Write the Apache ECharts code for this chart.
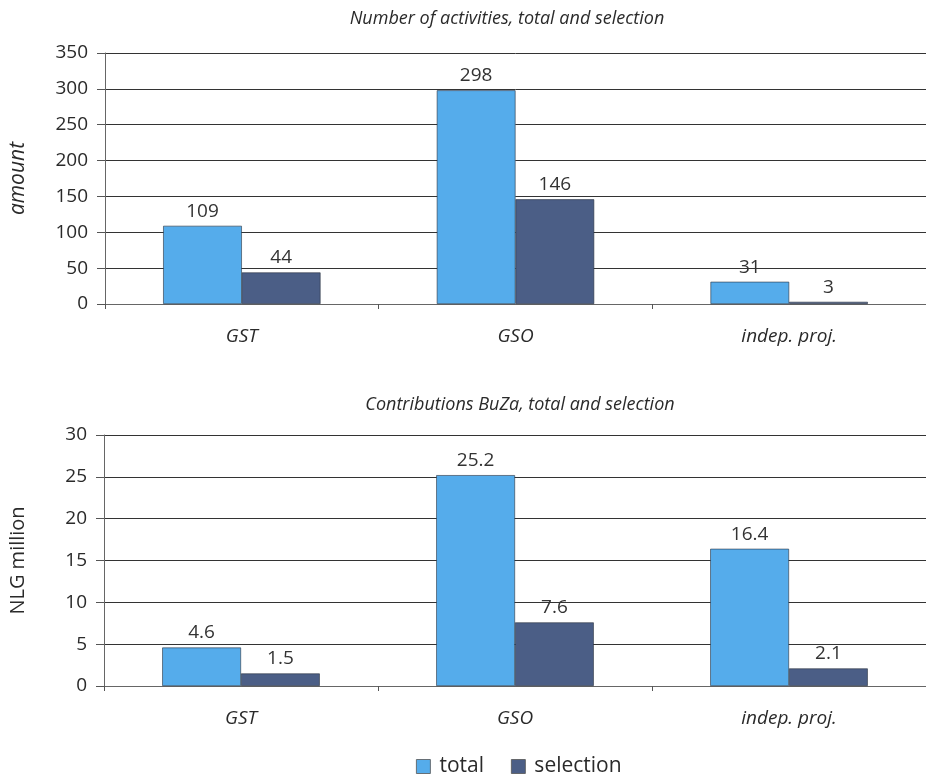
<!DOCTYPE html>
<html><head><meta charset="utf-8">
<script src="https://cdn.jsdelivr.net/npm/echarts@6/dist/echarts.min.js"></script>
<style>html,body{margin:0;padding:0;background:#fff}#c{width:926px;height:776px}</style>
</head><body><div id="c"></div>
<script>
const categories = ['GST', 'GSO', 'indep. proj.'];
const activitiesTotal = [109, 298, 31];
const activitiesSelection = [44, 146, 3];
const contribTotal = [4.6, 25.2, 16.4];
const contribSelection = [1.5, 7.6, 2.1];
const seriesNames = ['total', 'selection'];
const titles = ['Number of activities, total and selection', 'Contributions BuZa, total and selection'];
const yNames = ['amount', 'NLG million'];

const FONT = 'Open Sans';
const cTotal = '#55aceb';
const cSel = '#4b5e86';
const TXT = '#2a2a2a';

const chart = echarts.init(document.getElementById('c'));
const xAxisBase = (gi) => ({
  type: 'category', gridIndex: gi, data: categories,
  axisLine: {lineStyle: {color: '#666', width: 1}},
  axisTick: {show: true, length: 5, lineStyle: {color: '#555'}},
  axisLabel: {fontFamily: FONT, fontStyle: 'italic', fontSize: 19, color: TXT, margin: 23}
});
const yAxisBase = (gi, max, interval, name, italic, nameSize) => ({
  type: 'value', gridIndex: gi, min: 0, max: max, interval: interval,
  name: name, nameLocation: 'middle', nameGap: 76,
  nameTextStyle: {fontFamily: FONT, fontStyle: italic ? 'italic' : 'normal', fontSize: nameSize, color: TXT},
  axisLine: {show: true, lineStyle: {color: '#666'}},
  axisTick: {show: true, length: 8, lineStyle: {color: '#555'}},
  axisLabel: {fontFamily: FONT, fontSize: 19, color: TXT, margin: 17},
  splitLine: {lineStyle: {color: '#333', width: 1}}
});
const barSeries = (name, data, gi, color) => ({
  name: name, type: 'bar', xAxisIndex: gi, yAxisIndex: gi, data: data,
  barGap: '0%', barCategoryGap: '42.5%',
  itemStyle: {color: color, borderColor: '#2a3340', borderWidth: 0.6},
  label: {show: true, position: 'top', distance: 5, fontFamily: FONT, fontSize: 19, color: '#333'}
});
chart.setOption({
  animation: false,
  title: [
    {text: titles[0], left: 502, textAlign: 'center', top: 5, textStyle: {fontFamily: FONT, fontStyle: 'italic', fontWeight: 'normal', fontSize: 18, color: TXT}},
    {text: titles[1], left: 515, textAlign: 'center', top: 391, textStyle: {fontFamily: FONT, fontStyle: 'italic', fontWeight: 'normal', fontSize: 18, color: TXT}}
  ],
  legend: {
    data: seriesNames, top: 751, left: 411, itemWidth: 14, itemHeight: 14, itemGap: 27,
    icon: 'rect',
    itemStyle: {borderColor: '#555', borderWidth: 0.8},
    textStyle: {fontFamily: FONT, fontSize: 21, color: TXT, padding: [0, 0, 0, 4]}
  },
  grid: [
    {left: 104, width: 826, top: 53, height: 251},
    {left: 103, width: 826, top: 435, height: 251}
  ],
  xAxis: [xAxisBase(0), xAxisBase(1)],
  yAxis: [yAxisBase(0, 350, 50, yNames[0], true, 21), yAxisBase(1, 30, 5, yNames[1], false, 20)],
  series: [
    barSeries(seriesNames[0], activitiesTotal, 0, cTotal),
    barSeries(seriesNames[1], activitiesSelection, 0, cSel),
    barSeries(seriesNames[0], contribTotal, 1, cTotal),
    barSeries(seriesNames[1], contribSelection, 1, cSel)
  ]
});
</script></body></html>
